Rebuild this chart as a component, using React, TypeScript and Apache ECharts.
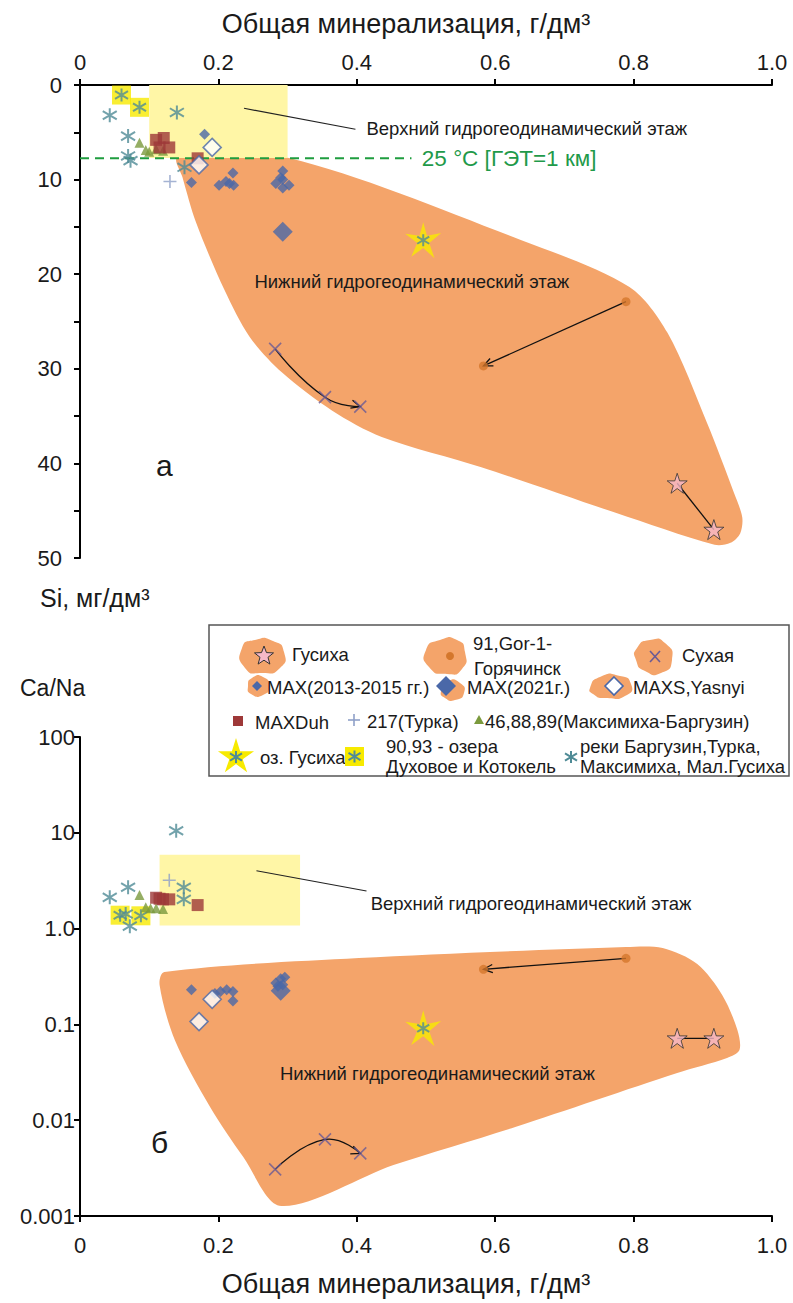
import React, { useEffect, useRef } from 'react';
import * as echarts from 'echarts';

const FONT = '"Liberation Sans", Arial, Helvetica, sans-serif';

// ---------- axis tick labels ----------
const xTickLabels = ['0', '0.2', '0.4', '0.6', '0.8', '1.0'];
const siTickLabels = ['0', '10', '20', '30', '40', '50'];
const caNaTickLabels = ['0.001', '0.01', '0.1', '1.0', '10', '100'];

// ---------- chart а: Si (mg/dm3) vs TDS (g/dm3) ----------
const gusikhaA = [[0.863, 42.1], [0.916, 47.0]];
const gor1A = [[0.789, 22.9], [0.583, 29.7]];
const sukhayaA = [[0.282, 27.9], [0.354, 33.0], [0.405, 34.0]];
const max1315A = [[0.18, 5.2], [0.161, 10.3], [0.201, 10.6], [0.211, 10.2], [0.221, 9.3], [0.222, 10.6], [0.216, 10.4],
  [0.293, 9.1], [0.283, 10.4], [0.293, 10.0], [0.302, 10.6], [0.293, 10.9], [0.29, 9.8]];
const max2021A = [[0.293, 15.5]];
const maxsA = [[0.191, 6.6], [0.172, 8.45]];
const maxduhA = [[0.11, 5.8], [0.121, 5.6], [0.129, 6.6], [0.115, 6.6], [0.17, 7.75]];
const turkaA = [[0.13, 10.2]];
const maksA = [[0.086, 6.1], [0.095, 6.87], [0.1, 7.05], [0.11, 6.8], [0.12, 6.95]];
const lakeGusA = [[0.496, 16.4]];
const lakesA = [[0.06, 1.06], [0.086, 2.36]];
const riversA = [[0.043, 3.2], [0.14, 2.9], [0.0695, 5.4], [0.0695, 7.5], [0.073, 8.0], [0.151, 8.7]];
const lowerZoneA = [[0.141, 7.72], [0.302, 7.72], [0.637, 16.38], [0.794, 21.35], [0.849, 26.2], [0.906, 35.7],
  [0.945, 43.1], [0.957, 45.7], [0.954, 47.4], [0.94, 48.4], [0.917, 48.6], [0.773, 45.2], [0.58, 40.4],
  [0.436, 37.2], [0.364, 34.4], [0.292, 30.4], [0.245, 26.6], [0.209, 21.7], [0.168, 14.6], [0.148, 9.73]];
const upperZoneA = [[0.1, 0], [0.3, 7.72]];
const isotherm25 = [[0, 7.75], [0.479, 7.75]];

// ---------- chart б: Ca/Na vs TDS ----------
const gusikhaB = [[0.863, 0.0716], [0.916, 0.0716]];
const gor1B = [[0.789, 0.49], [0.583, 0.376]];
const sukhayaB = [[0.282, 0.00307], [0.354, 0.0063], [0.405, 0.0045]];
const max1315B = [[0.161, 0.23], [0.195, 0.21], [0.203, 0.22], [0.212, 0.23], [0.221, 0.22], [0.221, 0.175],
  [0.283, 0.27], [0.29, 0.3], [0.296, 0.31], [0.286, 0.25], [0.293, 0.26]];
const max2021B = [[0.29, 0.225]];
const maxsB = [[0.191, 0.183], [0.172, 0.107]];
const maxduhB = [[0.11, 2.1], [0.12, 2.02], [0.129, 2.02], [0.115, 2.05], [0.17, 1.76]];
const turkaB = [[0.129, 3.2]];
const maksB = [[0.086, 2.24], [0.095, 1.67], [0.102, 1.63], [0.11, 1.63], [0.12, 1.6]];
const lakeGusB = [[0.496, 0.091]];
const lakesB = [[0.058, 1.38], [0.088, 1.36]];
const riversB = [[0.139, 10.5], [0.15, 2.7], [0.15, 2.02], [0.043, 2.12], [0.0695, 2.7], [0.072, 1.06], [0.066, 1.42]];
const lowerZoneB = [[0.122, 0.352], [0.403, 0.493], [0.789, 0.643], [0.842, 0.627], [0.892, 0.427], [0.928, 0.203],
  [0.95, 0.0875], [0.953, 0.054], [0.935, 0.0446], [0.863, 0.0311], [0.629, 0.0085], [0.453, 0.0034],
  [0.291, 0.00127], [0.236, 0.00413], [0.188, 0.01374], [0.137, 0.0687], [0.115, 0.258]];
const upperZoneB = [[0.115, 1.08], [0.318, 5.9]];

// ---------- colours ----------
const C = {
  orange: '#f4a46a', yellowBox: '#fff6a6', navy: '#4a68a8', red: '#9e3838', green: '#7b9a3d',
  teal: '#4f8b96', purple: '#6b5b95', pink: '#f6b8c8', gorDot: '#d4772c', plus: '#8fa0c8',
  lake: '#f7ea00', iso: '#1f9d3f', text: '#1a1a1a',
};

const STAR = 'path://M50,0L61.8,35.1L98.9,35.1L68.9,56.9L80.3,92.3L50,70.4L19.7,92.3L31.1,56.9L1.1,35.1L38.2,35.1Z';
const STAR_SHARP = 'path://M50,0L60,38L98,30L66,58L80,100L50,72L18,96L34,58L2,32L40,38Z';
const CROSS = 'path://M0,0L10,10M10,0L0,10';
const PLUS = 'path://M5,0L5,10M0,5L10,5';
const ASTER = 'path://M5,0L5,10M0,2L10,8M10,2L0,8';

function scatter(g: number, data: number[][], symbol: string, size: number, itemStyle: any, z: number) {
  return { type: 'scatter', xAxisIndex: g, yAxisIndex: g, data, symbol, symbolSize: size, itemStyle, z, silent: true };
}
const strokeOnly = (color: string, w = 2) => ({ color: 'transparent', borderColor: color, borderWidth: w });

function polygonSeries(g: number, pts: number[][], fill: string, smooth: number, z: number) {
  return {
    type: 'custom', xAxisIndex: g, yAxisIndex: g, z, silent: true, data: [pts[0]],
    renderItem: (_p: any, api: any) => ({
      type: 'polygon', shape: { points: pts.map((p) => api.coord(p)), smooth }, style: { fill },
    }),
  };
}
function rectSeries(g: number, corners: number[][], fill: string, z: number) {
  return {
    type: 'custom', xAxisIndex: g, yAxisIndex: g, z, silent: true, data: [corners[0]],
    renderItem: (_p: any, api: any) => {
      const a = api.coord(corners[0]);
      const b = api.coord(corners[1]);
      return {
        type: 'rect',
        shape: { x: Math.min(a[0], b[0]), y: Math.min(a[1], b[1]), width: Math.abs(b[0] - a[0]), height: Math.abs(b[1] - a[1]) },
        style: { fill },
      };
    },
  };
}
function pathSeries(g: number, pts: number[][], smooth: number, head: boolean, z: number, color = '#111', lw = 1.3) {
  return {
    type: 'custom', xAxisIndex: g, yAxisIndex: g, z, silent: true, data: [pts[0]],
    renderItem: (_p: any, api: any) => {
      const P = pts.map((p) => api.coord(p));
      const children: any[] = [
        { type: 'polyline', shape: { points: P, smooth }, style: { stroke: color, lineWidth: lw, fill: null } },
      ];
      if (head) {
        const e = P[P.length - 1];
        const s = P[P.length - 2];
        const ang = Math.atan2(e[1] - s[1], e[0] - s[0]);
        const L = 10, a = 0.42;
        children.push({
          type: 'polyline',
          shape: { points: [[e[0] - L * Math.cos(ang - a), e[1] - L * Math.sin(ang - a)], e, [e[0] - L * Math.cos(ang + a), e[1] - L * Math.sin(ang + a)]] },
          style: { stroke: color, lineWidth: lw, fill: null },
        });
      }
      return { type: 'group', children };
    },
  };
}
type Note = { text: string; at: number[]; size: number; color?: string; align?: string };
function textSeries(g: number, notes: Note[], z: number) {
  return {
    type: 'custom', xAxisIndex: g, yAxisIndex: g, z, silent: true, data: notes.map((n) => n.at),
    renderItem: (p: any, api: any) => {
      const n = notes[p.dataIndex];
      const c = api.coord(n.at);
      return {
        type: 'text', x: c[0], y: c[1],
        style: { text: n.text, fill: n.color || C.text, fontSize: n.size, fontFamily: FONT, align: n.align || 'left', verticalAlign: 'middle' },
      };
    },
  };
}

const notesA: Note[] = [
  { text: 'Верхний гидрогеодинамический этаж', at: [0.414, 4.6], size: 18.5 },
  { text: '25 °C [ГЭТ=1 км]', at: [0.494, 7.75], size: 22.5, color: '#1f9a4a' },
  { text: 'Нижний гидрогеодинамический этаж', at: [0.252, 20.8], size: 18.5 },
  { text: 'а', at: [0.122, 40.2], size: 30, align: 'center' },
];
const notesB: Note[] = [
  { text: 'Верхний гидрогеодинамический этаж', at: [0.42, 1.84], size: 18.5 },
  { text: 'Нижний гидрогеодинамический этаж', at: [0.289, 0.0309], size: 18.5 },
  { text: 'б', at: [0.115, 0.0058], size: 30, align: 'center' },
];
const leaderA = [[0.237, 2.46], [0.398, 4.68]];
const leaderB = [[0.255, 4.02], [0.414, 2.47]];

function panelSeries(g: number, d: any) {
  return [
    polygonSeries(g, d.lower, C.orange, 0.3, 1),
    rectSeries(g, d.upper, C.yellowBox, 2),
    pathSeries(g, d.leader, 0, false, 3, '#222', 1.2),
    textSeries(g, d.notes, 4),
    pathSeries(g, d.gor, 0, true, 5),
    pathSeries(g, d.sukh, 0.5, true, 5),
    pathSeries(g, d.gus, 0, false, 5),
    scatter(g, d.lakeGus, STAR_SHARP, 36, { color: C.lake }, 6),
    scatter(g, d.lakeGus, ASTER, 12, strokeOnly(C.teal, 2), 7),
    scatter(g, d.lakes, 'rect', 19, { color: C.lake }, 6),
    scatter(g, d.lakes, ASTER, 13, strokeOnly(C.teal, 2), 7),
    scatter(g, d.rivers, ASTER, 14, strokeOnly(C.teal, 2), 7),
    scatter(g, d.maks, 'triangle', 10, { color: C.green }, 8),
    scatter(g, d.duh, 'rect', 12, { color: C.red }, 8),
    scatter(g, d.turka, PLUS, 13, strokeOnly(C.plus, 1.6), 8),
    scatter(g, d.max2021, 'diamond', 20, { color: C.navy }, 9),
    scatter(g, d.max1315, 'diamond', 11, { color: C.navy }, 9),
    scatter(g, d.maxs, 'diamond', 18, { color: '#ffffff', borderColor: C.navy, borderWidth: 1.6 }, 10),
    scatter(g, d.gusikha, STAR, 20, { color: C.pink, borderColor: '#333', borderWidth: 1 }, 10),
    scatter(g, d.gor1, 'circle', 9, { color: C.gorDot }, 10),
    scatter(g, d.sukhaya, CROSS, 12, strokeOnly(C.purple, 1.6), 10),
  ];
}

// ---------- legend (graphic) ----------
function starPts(cx: number, cy: number, R: number, r: number) {
  const pts: number[][] = [];
  for (let i = 0; i < 10; i++) {
    const rad = i % 2 === 0 ? R : r;
    const a = -Math.PI / 2 + (i * Math.PI) / 5;
    pts.push([cx + rad * Math.cos(a), cy + rad * Math.sin(a)]);
  }
  return pts;
}
const diamondPts = (cx: number, cy: number, h: number) => [[cx, cy - h], [cx + h, cy], [cx, cy + h], [cx - h, cy]];
const ln = (x1: number, y1: number, x2: number, y2: number, stroke: string, w: number) =>
  ({ type: 'line', shape: { x1, y1, x2, y2 }, style: { stroke, lineWidth: w } });
const aster = (cx: number, cy: number, s: number) => [
  ln(cx, cy - s, cx, cy + s, C.teal, 2),
  ln(cx - s, cy - s * 0.6, cx + s, cy + s * 0.6, C.teal, 2),
  ln(cx + s, cy - s * 0.6, cx - s, cy + s * 0.6, C.teal, 2),
];
const blob = (pts: number[][]) => ({ type: 'polygon', shape: { points: pts, smooth: 0.7 }, style: { fill: C.orange } });
const LF = 18.5;
const lt = (text: string, x: number, y: number, size = LF) =>
  ({ type: 'text', x, y, style: { text, fill: C.text, fontSize: size, fontFamily: FONT, verticalAlign: 'middle' } });

function legendGraphic() {
  return [
    { type: 'rect', shape: { x: 209, y: 625, width: 580, height: 151 }, style: { fill: '#fff', stroke: '#555', lineWidth: 1.5 } },
    // row 1
    blob([[242, 648], [255, 640], [273, 641], [284, 652], [280, 668], [262, 673], [245, 668]]),
    { type: 'polygon', shape: { points: starPts(264, 656, 10, 4.2) }, style: { fill: C.pink, stroke: '#333', lineWidth: 1 } },
    lt('Гусиха', 292, 654),
    blob([[426, 650], [440, 640], [457, 640], [465, 652], [462, 669], [447, 674], [429, 667]]),
    { type: 'circle', shape: { cx: 450, cy: 656, r: 4 }, style: { fill: C.gorDot } },
    lt('91,Gor-1-', 473, 643),
    lt('Горячинск', 474, 668),
    blob([[637, 648], [650, 640], [665, 643], [672, 660], [661, 673], [645, 671], [636, 660]]),
    ln(650, 651, 660, 662, C.purple, 1.6), ln(660, 651, 650, 662, C.purple, 1.6),
    lt('Сухая', 682, 655),
    // row 2
    blob([[248, 686], [252, 678], [263, 677], [269, 686], [263, 695], [251, 694]]),
    { type: 'polygon', shape: { points: diamondPts(257, 686, 5) }, style: { fill: C.navy } },
    lt('MAX(2013-2015 гг.)', 267, 687),
    blob([[441, 691], [448, 681], [460, 683], [464, 693], [455, 700], [445, 698]]),
    { type: 'polygon', shape: { points: diamondPts(446, 686, 10) }, style: { fill: C.navy } },
    lt('MAX(2021г.)', 467, 687),
    blob([[590, 688], [600, 677], [620, 676], [631, 684], [627, 695], [605, 698], [593, 694]]),
    { type: 'polygon', shape: { points: diamondPts(614, 686, 9) }, style: { fill: '#fff', stroke: C.navy, lineWidth: 1.6 } },
    lt('MAXS,Yasnyi', 633, 687),
    // row 3
    { type: 'rect', shape: { x: 233, y: 716, width: 10, height: 10 }, style: { fill: C.red } },
    lt('MAXDuh', 255, 722),
    ln(354, 714, 354, 726, C.plus, 1.6), ln(348, 720, 360, 720, C.plus, 1.6),
    lt('217(Турка)', 367, 721),
    { type: 'polygon', shape: { points: [[479, 715], [484, 724], [474, 724]] }, style: { fill: C.green } },
    lt('46,88,89(Максимиха-Баргузин)', 485, 721),
    // row 4
    { type: 'polygon', shape: { points: starPts(236, 757, 19, 7) }, style: { fill: C.lake } },
    ...aster(236, 757, 6),
    lt('оз. Гусиха', 260, 757),
    { type: 'rect', shape: { x: 345, y: 747, width: 19, height: 19 }, style: { fill: C.lake } },
    ...aster(354.5, 756.5, 6),
    lt('90,93 - озера', 386, 746),
    lt('Духовое и Котокель', 386, 766),
    ...aster(571, 757, 6),
    lt('реки Баргузин,Турка,', 580, 746),
    lt('Максимиха, Мал.Гусиха', 580, 766),
    // free axis captions
    { type: 'text', x: 40, y: 598, style: { text: 'Si, мг/дм³', fill: C.text, fontSize: 25, fontFamily: FONT, verticalAlign: 'middle' } },
    { type: 'text', x: 20, y: 688, style: { text: 'Ca/Na', fill: C.text, fontSize: 23, fontFamily: FONT, verticalAlign: 'middle' } },
  ];
}

const axisLine = { show: true, onZero: false, lineStyle: { color: '#000', width: 2 } };
const axisTick = { show: true, inside: false, length: 6, lineStyle: { color: '#000', width: 2 } };
const labelStyle = { fontSize: 22, color: C.text, fontFamily: FONT };
const xFmt = (v: number) => xTickLabels[Math.round(v / 0.2)] ?? '';
const TITLE = 'Общая минерализация, г/дм³';
const titleStyle = { fontSize: 27, color: C.text, fontFamily: FONT, padding: [0, 40, 0, 0] };

export default function App() {
  const ref = useRef<HTMLDivElement>(null);
  useEffect(() => {
    document.body.style.margin = '0';
    const chart = echarts.init(ref.current!, null, { renderer: 'svg' });
    const option: any = {
      animation: false,
      backgroundColor: '#ffffff',
      textStyle: { fontFamily: FONT },
      grid: [
        { left: 80, top: 85, width: 692, height: 473 },
        { left: 80, top: 737, width: 692, height: 479 },
      ],
      xAxis: [
        {
          gridIndex: 0, type: 'value', position: 'top', min: 0, max: 1, interval: 0.2,
          axisLine, axisTick, splitLine: { show: false },
          axisLabel: { ...labelStyle, margin: 12, formatter: xFmt },
          name: TITLE, nameLocation: 'middle', nameGap: 48, nameTextStyle: titleStyle,
        },
        {
          gridIndex: 1, type: 'value', position: 'bottom', min: 0, max: 1, interval: 0.2,
          axisLine, axisTick, splitLine: { show: false },
          axisLabel: { ...labelStyle, margin: 18, formatter: xFmt },
          name: TITLE, nameLocation: 'middle', nameGap: 54, nameTextStyle: titleStyle,
        },
      ],
      yAxis: [
        {
          gridIndex: 0, type: 'value', inverse: true, min: 0, max: 50, interval: 5,
          axisLine, axisTick, splitLine: { show: false },
          axisLabel: { ...labelStyle, margin: 18, formatter: (v: number) => (v % 10 === 0 ? siTickLabels[v / 10] : '') },
        },
        {
          gridIndex: 1, type: 'log', logBase: 10, min: 0.001, max: 100,
          axisLine, axisTick, splitLine: { show: false },
          axisLabel: { ...labelStyle, margin: 5, formatter: (v: number) => caNaTickLabels[Math.round(Math.log10(v)) + 3] ?? '' },
        },
      ],
      graphic: legendGraphic(),
      series: [
        {
          type: 'line', xAxisIndex: 0, yAxisIndex: 0, data: isotherm25, symbol: 'none', z: 3, silent: true,
          lineStyle: { color: C.iso, width: 2, type: [9, 6] },
        },
        ...panelSeries(0, {
          lower: lowerZoneA, upper: upperZoneA, leader: leaderA, notes: notesA, gor: gor1A, sukh: sukhayaA, gus: gusikhaA,
          lakeGus: lakeGusA, lakes: lakesA, rivers: riversA, maks: maksA, duh: maxduhA, turka: turkaA,
          max2021: max2021A, max1315: max1315A, maxs: maxsA, gusikha: gusikhaA, gor1: gor1A, sukhaya: sukhayaA,
        }),
        ...panelSeries(1, {
          lower: lowerZoneB, upper: upperZoneB, leader: leaderB, notes: notesB, gor: gor1B, sukh: sukhayaB, gus: gusikhaB,
          lakeGus: lakeGusB, lakes: lakesB, rivers: riversB, maks: maksB, duh: maxduhB, turka: turkaB,
          max2021: max2021B, max1315: max1315B, maxs: maxsB, gusikha: gusikhaB, gor1: gor1B, sukhaya: sukhayaB,
        }),
      ],
    };
    chart.setOption(option);
    return () => chart.dispose();
  }, []);
  return <div ref={ref} style={{ width: 793, height: 1303 }} />;
}
